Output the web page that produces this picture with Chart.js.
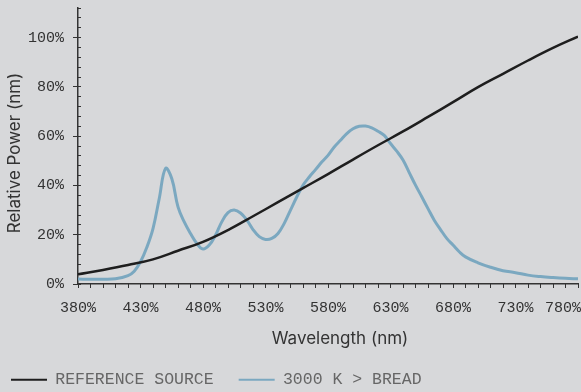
<!DOCTYPE html>
<html>
<head>
<meta charset="utf-8">
<script src="https://cdn.jsdelivr.net/npm/chart.js@4"></script>
<style>
  html, body { margin: 0; padding: 0; background: #d7d8da; }
  #wrap { width: 581px; height: 392px; position: relative; }
</style>
</head>
<body>
<div id="wrap"><canvas id="chart"></canvas></div>
<script>
// ---- Data ----
const seriesNames = ['REFERENCE SOURCE', '3000 K > BREAD'];

const refWavelengths = [380, 400, 420, 440, 460, 480, 500, 520, 540, 560, 580, 600, 620, 640, 660, 680, 700, 720, 740, 760, 780];
const refValues      = [3.9, 5.7, 7.7, 10.0, 13.5, 17.1, 21.9, 27.5, 33.2, 38.9, 44.6, 50.5, 56.3, 61.9, 67.8, 73.8, 79.9, 85.3, 90.7, 95.8, 100.4];

const ledWavelengths = [380, 390, 400, 410, 420, 425, 430, 435, 440, 445, 450, 455, 460, 465, 470, 475, 480, 485, 490, 495, 500, 505, 510, 515, 520, 525, 530, 535, 540, 545, 550, 555, 560, 565, 570, 575, 580, 585, 590, 595, 600, 605, 610, 615, 620, 625, 630, 635, 640, 645, 650, 655, 660, 665, 670, 675, 680, 685, 690, 700, 710, 720, 730, 740, 750, 760, 770, 780];
const ledValues      = [2.0, 1.9, 1.9, 2.1, 3.4, 5.2, 9.0, 14.8, 22.5, 34.7, 46.9, 42.8, 31.3, 25.2, 20.5, 16.5, 14.2, 15.8, 19.8, 25.2, 29.0, 30.0, 28.8, 26.0, 22.1, 19.2, 18.1, 18.5, 20.5, 24.6, 30.0, 35.3, 40.1, 43.4, 46.4, 49.5, 52.2, 55.6, 58.3, 61.0, 63.0, 64.0, 64.1, 63.4, 62.0, 60.3, 57.0, 53.9, 50.3, 45.2, 40.1, 35.4, 30.6, 25.9, 22.1, 18.5, 15.8, 13.1, 11.0, 8.6, 6.8, 5.4, 4.6, 3.6, 3.0, 2.6, 2.3, 2.1];

const xMin = 380, xMax = 780, xMajorStep = 50, xMinorStep = 10;
const yMin = 0, yMax = 112, yMajorStep = 20, yMinorStep = 4;

const xTitle = 'Wavelength (nm)';
const yTitle = 'Relative Power (nm)';

// ---- Styling ----
const INK = '#333333';
const MONO = 'Liberation Mono';
const SANS = 'Inter';

const toPoints = (xs, ys) => xs.map((x, i) => ({ x, y: ys[i] }));

// Right-align the last x tick label so it stays inside the canvas
const edgeLabelPlugin = {
  id: 'edgeLabel',
  beforeDraw(chart) {
    const s = chart.scales.x;
    const items = s.getLabelItems();
    const last = items[items.length - 1];
    if (last) {
      last.options.textAlign = 'right';
      last.options.translation[0] = chart.width;
    }
  }
};

// Nudge axis titles to the reference position
const titleShiftPlugin = {
  id: 'titleShift',
  afterLayout(chart) {
    [['x', 12, 3], ['y', 0, 7]].forEach(([id, dx, dy]) => {
      const s = chart.scales[id];
      if (!s || s.__shifted) return;
      const orig = s.drawTitle;
      s.drawTitle = function () {
        this.left += dx; this.right += dx; this.top += dy; this.bottom += dy;
        orig.call(this);
        this.left -= dx; this.right -= dx; this.top -= dy; this.bottom -= dy;
      };
      s.__shifted = true;
    });
  }
};

new Chart(document.getElementById('chart'), {
  type: 'line',
  data: {
    datasets: [
      {
        label: seriesNames[0],
        data: toPoints(refWavelengths, refValues),
        borderColor: '#1e1e1e',
        borderWidth: 2.5,
        pointRadius: 0,
        pointStyle: 'line',
        pointBorderColor: '#1e1e1e',
        pointBorderWidth: 2,
        tension: 0.4,
        fill: false
      },
      {
        label: seriesNames[1],
        data: toPoints(ledWavelengths, ledValues),
        borderColor: '#7ba8c0',
        borderWidth: 3,
        pointRadius: 0,
        pointStyle: 'line',
        pointBorderColor: '#7ba8c0',
        pointBorderWidth: 2,
        tension: 0.4,
        fill: false
      }
    ]
  },
  options: {
    responsive: true,
    maintainAspectRatio: false,
    animation: false,
    layout: { padding: { left: -14, right: 3, top: 8, bottom: -6 } },
    plugins: {
      legend: {
        position: 'bottom',
        align: 'start',
        labels: {
          usePointStyle: true,
          pointStyleWidth: 36,
          padding: 25,
          color: '#666666',
          font: { family: MONO, size: 16.5 }
        }
      },
      tooltip: { enabled: false }
    },
    scales: {
      x: {
        type: 'linear',
        position: 'bottom',
        min: xMin, max: xMax,
        ticks: {
          stepSize: xMajorStep,
          autoSkip: false,
          maxRotation: 0,
          padding: 11,
          color: INK,
          font: { family: MONO, size: 15 },
          callback: v => v + '%'
        },
        grid: { drawOnChartArea: false, tickLength: 4, tickColor: INK, tickWidth: 1 },
        border: { color: INK, width: 1.5 },
        title: {
          display: true, text: xTitle, color: INK,
          font: { family: SANS, size: 17 },
          padding: { top: 0, bottom: 0 }
        },
        afterFit(s) { s.height = 62.5; s.paddingLeft = 0; s.paddingRight = 0; }
      },
      y: {
        type: 'linear',
        position: 'left',
        min: yMin, max: yMax,
        ticks: {
          stepSize: yMajorStep,
          includeBounds: false,
          padding: 9,
          color: INK,
          font: { family: MONO, size: 15 },
          callback: v => v + '%'
        },
        grid: { drawOnChartArea: false, tickLength: 5, tickColor: INK, tickWidth: 1 },
        border: { color: INK, width: 1.5 },
        title: {
          display: true, text: yTitle, color: INK,
          font: { family: SANS, size: 17 },
          padding: { top: 19, bottom: 0 }
        },
        afterFit(s) { s.width = 92; s.paddingTop = 0; s.paddingBottom = 0; }
      },
      xMinor: {
        type: 'linear',
        axis: 'x',
        position: { y: 0 },
        min: xMin, max: xMax,
        ticks: { display: false, stepSize: xMinorStep },
        grid: { drawOnChartArea: false, tickLength: 4, tickColor: INK, tickWidth: 1 },
        border: { display: false }
      },
      yMinor: {
        type: 'linear',
        axis: 'y',
        position: { x: xMin },
        min: yMin, max: yMax,
        ticks: { display: false, stepSize: yMinorStep },
        grid: { drawOnChartArea: false, tickLength: -3, tickColor: INK, tickWidth: 1 },
        border: { display: false }
      }
    }
  },
  plugins: [edgeLabelPlugin, titleShiftPlugin]
});
</script>
</body>
</html>
